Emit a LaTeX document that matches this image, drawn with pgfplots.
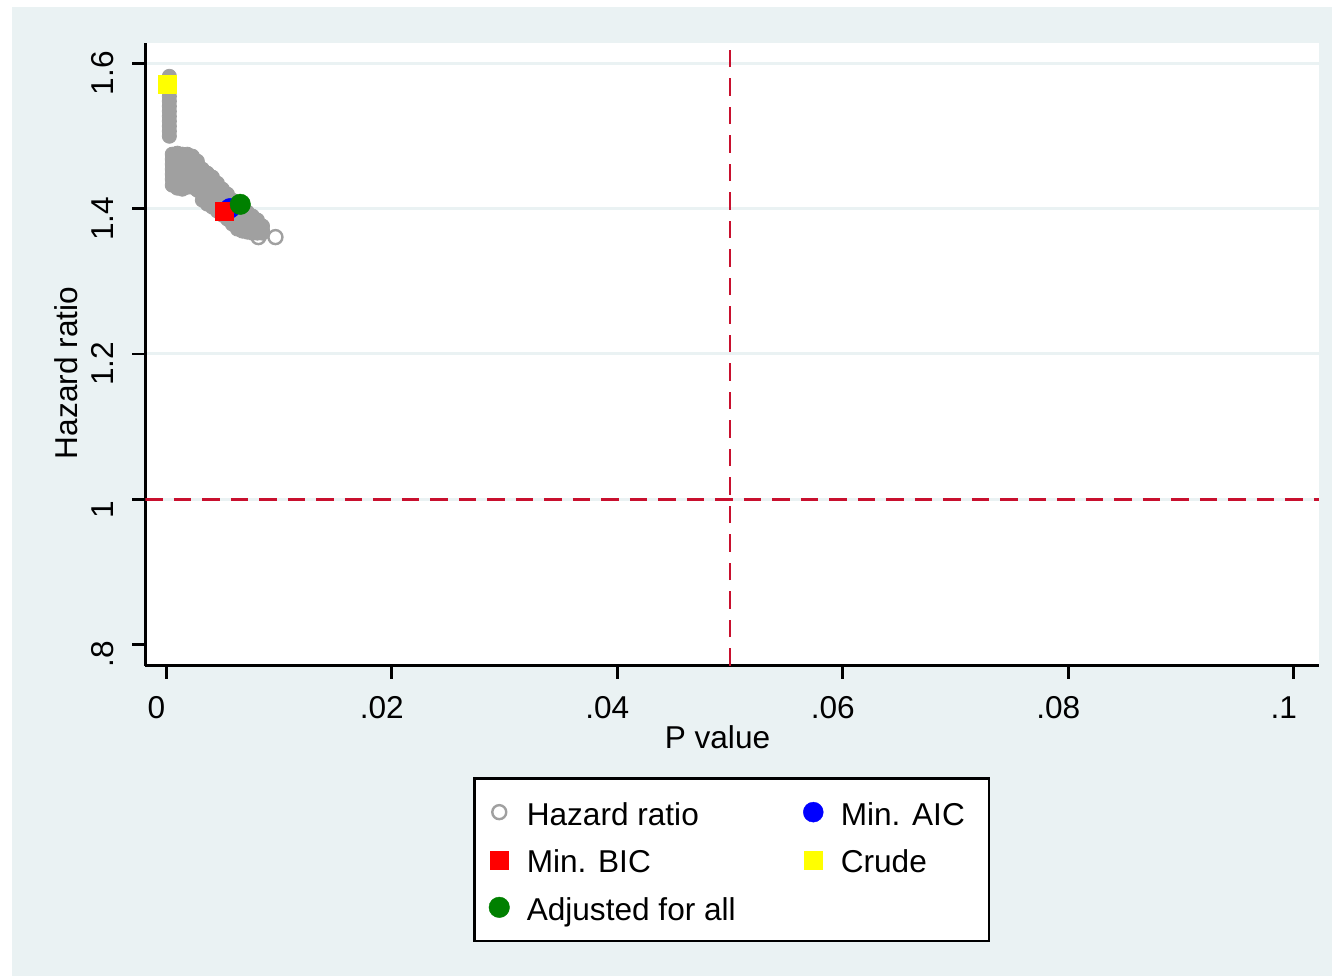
\documentclass[border=0pt]{standalone}
\usepackage{fontspec}
\setmainfont{Liberation Sans}
\usepackage{pgfplots}
\pgfplotsset{compat=1.18}
\definecolor{bg}{RGB}{234,242,243}
\definecolor{hrgray}{RGB}{160,160,160}
\definecolor{refred}{RGB}{200,16,46}
\definecolor{aicblue}{RGB}{0,0,255}
\definecolor{bicred}{RGB}{255,0,0}
\definecolor{adjgreen}{RGB}{0,128,0}
\definecolor{crudeyellow}{RGB}{255,255,0}
\newcommand\fs{\fontsize{15.8}{19}\selectfont}
\begin{document}
\begin{tikzpicture}
\path[use as bounding box] (-72.65pt,-155.25pt) rectangle (593.35pt,332.75pt);
\fill[white] (-72.65pt,-155.25pt) rectangle (593.35pt,332.75pt);
\fill[bg] (-66.65pt,-155.25pt) rectangle (593.35pt,329.25pt);
\begin{axis}[
 at={(0pt,0pt)}, anchor=south west,
 scale only axis, width=586.85pt, height=311.4pt,
 xmin=-0.001863, xmax=0.10224, ymin=0.7711, ymax=1.6284,
 axis x line*=bottom, axis y line*=left,
 axis line style={line width=1.35pt, -},
 axis background/.style={fill=white},
 tick align=outside, major tick length=6.5pt,
 tick style={line width=1.35pt, black},
 xtick={0,0.02,0.04,0.06,0.08,0.1},
 xticklabels={0,.02,.04,.06,.08,.1},
 ytick={1,1.2,1.4,1.6}, yticklabels={1,1.2,1.4,1.6},
 extra y ticks={0.8}, extra y tick labels={.8}, extra y tick style={grid=none},
 ymajorgrids, grid style={bg, line width=1.5pt},
 xticklabel style={font=\fs, anchor=base, xshift=-5pt, yshift=-19.9pt},
 yticklabel style={font=\fs, xshift=-9.5pt, yshift=-5pt, rotate=90, anchor=base},
 xlabel={P value}, ylabel={Hazard ratio},
 xlabel style={font=\fs, at={(axis description cs:0.4875,0)}, anchor=base, yshift=-41.25pt},
 ylabel style={font=\fs, at={(axis description cs:-0.05734,0.4697)}, anchor=base},
 legend columns=2, legend cell align=left,
 legend image code/.code={\path[draw=none,fill=none] (0pt,0pt) -- (20.25pt,0pt); \draw[#1] plot coordinates {(8.5pt,0pt)};},
 legend style={at={(axis description cs:0.4995,-0.179)}, anchor=north, draw=black,
   line width=1.35pt, fill=white, font=\fs, inner xsep=4pt, inner ysep=5pt,
   nodes={inner sep=2pt, text height=16.5pt, text depth=3.3pt},
   /tikz/every even column/.append style={column sep=28.25pt}},
]
\draw[refred, line width=1.3pt, dash pattern=on 8.75pt off 5.5pt] (axis cs:0.05,0.7711) -- (axis cs:0.05,1.6284);
\draw[refred, line width=1.3pt, dash pattern=on 8.75pt off 5.5pt] (axis cs:-0.001863,1) -- (axis cs:0.10224,1);
\addplot[only marks, mark=*, mark size=3.55pt, color=hrgray, mark options={fill=hrgray, draw=hrgray, line width=0.4pt}, forget plot] coordinates {
(0.00027,1.5821)(0.00027,1.5753)(0.00027,1.5684)(0.00027,1.5615)(0.00027,1.5546)(0.00027,1.5478)(0.00027,1.5409)(0.00027,1.5340)(0.00027,1.5271)(0.00027,1.5203)(0.00027,1.5134)(0.00027,1.5065)(0.00027,1.4997)
(0.00053,1.4749)(0.00053,1.4680)(0.00053,1.4612)(0.00053,1.4543)(0.00053,1.4474)(0.00053,1.4405)(0.00053,1.4323)
(0.00098,1.4763)(0.00098,1.4694)(0.00098,1.4625)(0.00098,1.4557)(0.00098,1.4488)(0.00098,1.4419)(0.00098,1.4350)(0.00098,1.4282)
(0.00142,1.4749)(0.00142,1.4680)(0.00142,1.4612)(0.00142,1.4543)(0.00142,1.4474)(0.00142,1.4405)(0.00142,1.4337)(0.00142,1.4268)
(0.00186,1.4749)(0.00186,1.4680)(0.00186,1.4612)(0.00186,1.4543)(0.00186,1.4474)(0.00186,1.4405)(0.00186,1.4337)(0.00186,1.4295)
(0.00231,1.4722)(0.00231,1.4653)(0.00231,1.4584)(0.00231,1.4515)(0.00231,1.4447)(0.00231,1.4378)(0.00231,1.4295)
(0.00275,1.4653)(0.00275,1.4584)(0.00275,1.4515)(0.00275,1.4447)(0.00275,1.4378)(0.00275,1.4309)(0.00275,1.4254)
(0.00320,1.4543)(0.00320,1.4474)(0.00320,1.4405)(0.00320,1.4337)(0.00320,1.4268)(0.00320,1.4199)(0.00320,1.4117)
(0.00364,1.4488)(0.00364,1.4419)(0.00364,1.4350)(0.00364,1.4282)(0.00364,1.4213)(0.00364,1.4144)(0.00364,1.4062)
(0.00409,1.4433)(0.00409,1.4364)(0.00409,1.4295)(0.00409,1.4227)(0.00409,1.4158)(0.00409,1.4089)(0.00409,1.4021)
(0.00453,1.4350)(0.00453,1.4282)(0.00453,1.4213)(0.00453,1.4144)(0.00453,1.4076)(0.00453,1.4007)(0.00453,1.3966)
(0.00497,1.4268)(0.00497,1.4199)(0.00497,1.4131)(0.00497,1.4062)(0.00497,1.3993)(0.00497,1.3911)
(0.00542,1.4199)(0.00542,1.4131)(0.00542,1.4062)(0.00542,1.3993)(0.00542,1.3925)(0.00542,1.3856)
(0.00586,1.4117)(0.00586,1.4048)(0.00586,1.3979)(0.00586,1.3911)(0.00586,1.3842)(0.00586,1.3787)
(0.00631,1.4062)(0.00631,1.3993)(0.00631,1.3925)(0.00631,1.3856)(0.00631,1.3787)(0.00631,1.3719)
(0.00675,1.4007)(0.00675,1.3938)(0.00675,1.3869)(0.00675,1.3801)(0.00675,1.3732)(0.00675,1.3691)
(0.00719,1.3952)(0.00719,1.3883)(0.00719,1.3815)(0.00719,1.3746)(0.00719,1.3677)
(0.00764,1.3897)(0.00764,1.3828)(0.00764,1.3760)(0.00764,1.3691)(0.00764,1.3663)
(0.00808,1.3842)(0.00808,1.3773)(0.00808,1.3704)(0.00808,1.3663)
(0.00853,1.3760)(0.00853,1.3704)(0.00853,1.3663)
};
\addplot[only marks, mark=o, mark size=3.5pt, color=hrgray, mark options={line width=1.2pt}] coordinates {(0.00817,1.3608) (0.00968,1.3608)};
\addlegendentry{Hazard ratio}
\addplot[only marks, mark=*, mark size=5pt, color=aicblue, mark options={fill=aicblue, draw=aicblue, line width=0.2pt}] coordinates {(0.00565,1.4004)};
\addlegendentry{Min. AIC\hspace*{6pt}}
\addplot[only marks, mark=square*, mark size=4.5pt, color=bicred, mark options={fill=bicred, draw=bicred, line width=0.2pt}] coordinates {(0.00514,1.3970)};
\addlegendentry{Min. BIC}
\addplot[only marks, mark=square*, mark size=4.5pt, color=crudeyellow, mark options={fill=crudeyellow, draw=crudeyellow, line width=0.2pt}] coordinates {(0.0001,1.5718)};
\addlegendentry{Crude}
\addplot[only marks, mark=*, mark size=5.15pt, color=adjgreen, mark options={fill=adjgreen, draw=adjgreen, line width=0.2pt}] coordinates {(0.00656,1.4059)};
\addlegendentry{Adjusted for all}
\end{axis}
\end{tikzpicture}
\end{document}
